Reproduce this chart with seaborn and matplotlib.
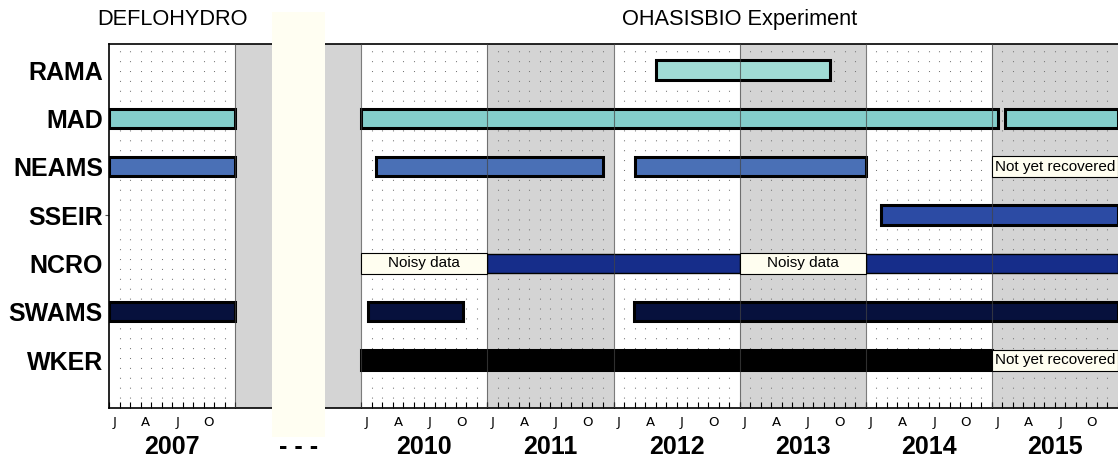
import numpy as np
import matplotlib
matplotlib.use("Agg")
import matplotlib.pyplot as plt
from matplotlib.patches import Rectangle
import seaborn as sns

sns.set_style("white")
plt.rcParams["font.family"] = ["Liberation Sans", "DejaVu Sans"]
plt.rcParams["text.color"] = "black"
plt.rcParams["xtick.color"] = "black"
plt.rcParams["ytick.color"] = "black"

# ----------------------------------------------------------------------
# data
# ----------------------------------------------------------------------
stations = ["RAMA", "MAD", "NEAMS", "SSEIR", "NCRO", "SWAMS", "WKER"]
station_colors = ["#a0dcd5", "#84cecb", "#4a70b6", "#2c4ba4", "#162d8a",
                  "#07113d", "#000000"]

# deployment periods in decimal years
seg_station = ["RAMA", "MAD", "MAD", "MAD", "NEAMS", "NEAMS", "NEAMS",
               "SSEIR", "NCRO", "NCRO", "SWAMS", "SWAMS", "SWAMS", "WKER"]
seg_start = [2012.34, 2007.0, 2010.0, 2015.105, 2007.0, 2010.12, 2012.17,
             2014.12, 2011.0, 2014.0, 2007.0, 2010.05, 2012.16, 2010.0]
seg_end = [2013.72, 2008.0, 2015.05, 2016.0, 2008.0, 2011.92, 2014.0,
           2016.0, 2013.0, 2016.0, 2008.0, 2010.81, 2016.0, 2015.0]

note_station = ["NEAMS", "NCRO", "NCRO", "WKER"]
note_start = [2015.0, 2010.0, 2013.0, 2015.0]
note_end = [2016.0, 2011.0, 2014.0, 2016.0]
note_text = ["Not yet recovered", "Noisy data", "Noisy data", "Not yet recovered"]

year_labels = ["2007", "- - -", "2010", "2011", "2012", "2013", "2014", "2015"]
month_labels = ["J", "A", "J", "O"]
campaign_labels = ["DEFLOHYDRO", "OHASISBIO Experiment"]

# 2008-2009 are squeezed into the single "- - -" slot
year_slot = {2007: 0, 2008: 1, 2010: 2, 2011: 3, 2012: 4, 2013: 5,
             2014: 6, 2015: 7, 2016: 8}


def to_axis(t):
    y = int(np.floor(t))
    return year_slot[y] + (t - y)


row = {s: i for i, s in enumerate(stations)}
col = dict(zip(stations, station_colors))
shown = [i for i, lab in enumerate(year_labels) if lab != "- - -"]

# ----------------------------------------------------------------------
# figure
# ----------------------------------------------------------------------
fig = plt.figure(figsize=(11.18, 4.62), dpi=100)
ax = fig.add_axes([109 / 1118, 54 / 462, 1 - 109 / 1118, 364 / 462])

# alternating year shading
for i in range(len(year_labels)):
    if i % 2 == 1:
        ax.axvspan(i, i + 1, color="#d4d4d4", zorder=0, lw=0)

# monthly dotted grid
for i in shown:
    for m in range(1, 12):
        ax.axvline(i + m / 12, color="#777777", lw=0.75, ls=(0, (1, 8.5)), zorder=1)

# year boundaries
for i in range(1, len(year_labels)):
    ax.axvline(i, color="#444444", lw=0.8, alpha=0.7, zorder=4)

# deployments
for s, a, b in zip(seg_station, seg_start, seg_end):
    x0, x1 = to_axis(a), to_axis(b)
    lw = 1.0 if s == "NCRO" else 2.2
    ax.barh(row[s], x1 - x0, left=x0, height=0.4, color=col[s],
            edgecolor="black", lw=lw, zorder=3)

# notes
for s, a, b, t in zip(note_station, note_start, note_end, note_text):
    x0, x1 = to_axis(a), to_axis(b)
    ax.barh(row[s], x1 - x0, left=x0, height=0.44, color="#fffef0",
            edgecolor="black", lw=0.8, zorder=6)
    ax.text((x0 + x1) / 2, row[s], t, ha="center", va="center",
            fontsize=11, zorder=7)

ax.set_xlim(0, 8)
ax.set_ylim(6.99, -0.54)

ax.set_yticks(range(len(stations)))
ax.set_yticklabels(stations, fontsize=18, fontweight="bold")
ax.tick_params(axis="y", left=True, direction="out", length=3, width=0.8,
               pad=1.3, color="#555555")
for s, tk in zip(stations, ax.yaxis.get_major_ticks()):
    if s != "SSEIR":
        tk.tick1line.set_visible(False)

# month ticks + labels
month_ticks = [i + m / 12 for i in shown for m in range(13)]
ax.set_xticks(month_ticks, minor=True)
ax.set_xticks([])
ax.tick_params(axis="x", which="minor", bottom=True, direction="in",
               length=4, width=0.8)

xt = ax.get_xaxis_transform()
for i in shown:
    for k, lab in enumerate(month_labels):
        ax.text(i + (3 * k + 0.5) / 12, -0.041, lab, transform=xt,
                ha="center", va="center", fontsize=9.5,
                family=["Liberation Sans Narrow", "DejaVu Sans"])
for i, lab in enumerate(year_labels):
    ax.text(i + 0.5, -0.107, lab, transform=xt, ha="center", va="center",
            fontsize=18, fontweight="bold")

ax.text(0.5, 1.066, campaign_labels[0], transform=xt, ha="center",
        va="center", fontsize=15.7)
ax.text(5.0, 1.066, campaign_labels[1], transform=xt, ha="center",
        va="center", fontsize=15.7)

for side in ["left", "top", "bottom"]:
    ax.spines[side].set_color("black")
    ax.spines[side].set_linewidth(1.2)
ax.spines["right"].set_visible(False)

# cream band hiding the gap years
fig.add_artist(Rectangle((272 / 1118, 25 / 462), 53 / 1118, 425 / 462,
                         transform=fig.transFigure, color="#fffef2",
                         lw=0, zorder=10))

fig.savefig("out.png", dpi=100)
